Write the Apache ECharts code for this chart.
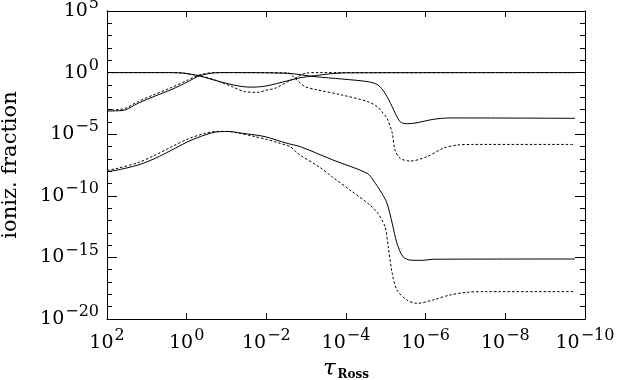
<!DOCTYPE html>
<html>
<head>
<meta charset="utf-8">
<script src="https://cdn.jsdelivr.net/npm/echarts@6/dist/echarts.min.js"></script>
<style>
  html, body { margin: 0; padding: 0; background: #fff; }
  #chart { width: 618px; height: 380px; }
</style>
</head>
<body>
<div id="chart"></div>
<script>
// points are [log10(tau_Ross), log10(fraction)]
var solidTop = [[2, 0], [0.5, 0], [0.12, -0.03], [-0.08, -0.12], [-0.33, -0.28], [-0.84, -0.74], [-1.29, -1.08],
  [-1.59, -1.18], [-1.97, -1.1], [-2.54, -0.66], [-2.85, -0.42], [-3.22, -0.25], [-3.6, -0.1], [-4.0, -0.02], [-9.75, 0]]
var dottedTop = [[2, 0], [0.5, 0], [0.12, -0.03], [-0.08, -0.12], [-0.33, -0.25], [-0.71, -0.6], [-1.14, -1.14],
  [-1.46, -1.55], [-1.79, -1.6], [-1.97, -1.45], [-2.22, -1.27], [-2.54, -0.74], [-2.8, -0.33], [-2.97, -0.06],
  [-3.3, 0], [-9.75, 0]]
var solidMid = [[2, -3.12], [1.75, -3.1], [1.55, -3.04], [1.22, -2.49], [0.79, -1.9], [0.37, -1.36], [-0.03, -0.74],
  [-0.33, -0.25], [-0.71, -0.02], [-1.0, 0], [-2.54, -0.06], [-3.22, -0.33], [-3.9, -0.52], [-4.55, -0.74],
  [-4.8, -1.0], [-4.98, -1.68], [-5.16, -2.77], [-5.36, -3.99], [-5.55, -4.15], [-5.78, -4.07], [-6.18, -3.8],
  [-6.61, -3.68], [-9.75, -3.71]]
var dottedMid = [[2, -3.05], [1.75, -3.0], [1.55, -2.92], [1.22, -2.35], [0.79, -1.75], [0.37, -1.2], [-0.03, -0.6],
  [-0.33, -0.18], [-0.71, 0], [-2.54, -0.02], [-2.72, -0.46], [-2.97, -1.14], [-3.22, -1.36], [-3.9, -1.82],
  [-4.55, -2.36], [-4.8, -2.8], [-4.93, -3.3], [-5.03, -3.7], [-5.16, -4.9], [-5.23, -6.28], [-5.36, -6.96],
  [-5.61, -7.18], [-6.03, -6.83], [-6.44, -6.14], [-6.79, -5.88], [-7.2, -5.83], [-9.75, -5.83]]
var solidLow = [[2, -8.02], [1.8, -7.95], [1.22, -7.5], [0.79, -6.96], [0.37, -6.28], [-0.03, -5.61], [-0.46, -5.06],
  [-0.79, -4.8], [-1.1, -4.78], [-1.29, -4.88], [-1.72, -5.06], [-1.97, -5.2], [-2.52, -5.74], [-2.85, -6.01],
  [-3.67, -7.09], [-4.53, -8.17], [-4.68, -8.72], [-4.9, -9.8], [-5.03, -10.61], [-5.16, -12.23], [-5.28, -13.86],
  [-5.43, -14.94], [-5.61, -15.22], [-5.93, -15.24], [-6.18, -15.15], [-9.75, -15.13]]
var dottedLow = [[2, -7.92], [1.8, -7.82], [1.22, -7.31], [0.79, -6.69], [0.37, -6.01], [-0.03, -5.39], [-0.46, -4.93],
  [-0.79, -4.77], [-1.1, -4.8], [-1.29, -4.9], [-1.72, -5.2], [-1.97, -5.39], [-2.3, -5.7], [-2.59, -6.0],
  [-2.72, -6.35], [-2.85, -6.7], [-3.35, -7.7], [-3.67, -8.5], [-4.1, -9.53], [-4.6, -10.75], [-4.8, -11.42],
  [-4.98, -12.51], [-5.06, -14.13], [-5.16, -16.29], [-5.28, -17.65], [-5.53, -18.46], [-5.78, -18.73],
  [-6.18, -18.46], [-6.61, -18.05], [-7.04, -17.83], [-7.5, -17.78], [-9.75, -17.78]]

var xRange = [1e-10, 1e2]
var yRange = [1e-20, 1e5]

var font = 'DejaVu Serif'

function toData (pts) {
  return pts.map(function (p) { return [Math.pow(10, p[0]), Math.pow(10, p[1])] })
}

function powLabel (v) {
  var e = Math.round(Math.log10(v))
  return '{b|10}{s|' + (e < 0 ? '\u2212' + (-e) : e) + '}'
}

var labelRich = {
  b: { fontFamily: font, fontSize: 19, color: '#000' },
  s: { fontFamily: font, fontSize: 16, color: '#000', padding: [0, 0, 14, 1] }
}

function xAx (pos, show) {
  return {
    type: 'log', logBase: 10, position: pos, inverse: true,
    min: xRange[0], max: xRange[1], interval: 2,
    axisLine: { lineStyle: { color: '#000', width: 1 } },
    axisTick: { inside: true, length: 6, lineStyle: { color: '#000' } },
    axisLabel: { show: show, formatter: powLabel, rich: labelRich, margin: 9 },
    splitLine: { show: false },
    name: show ? '{t|\u03c4}{r|Ross}' : '',
    nameLocation: 'middle', nameGap: 38, nameMoveOverlap: false,
    nameTextStyle: {
      rich: {
        t: { fontFamily: font, fontSize: 23, fontStyle: 'italic', color: '#000' },
        r: { fontFamily: font, fontSize: 12, fontWeight: 'bold', color: '#000', padding: [12, 0, 0, 2] }
      }
    }
  }
}

function yAx (pos, step, len, show) {
  return {
    type: 'log', logBase: 10, position: pos,
    min: yRange[0], max: yRange[1], interval: step,
    axisLine: { lineStyle: { color: '#000', width: 1 } },
    axisTick: { inside: true, length: len, lineStyle: { color: '#000' } },
    axisLabel: { show: show, formatter: powLabel, rich: labelRich, margin: 8 },
    splitLine: { show: false },
    name: show ? 'ioniz. fraction' : '',
    nameLocation: 'middle', nameGap: 86, nameRotate: 90, nameMoveOverlap: false,
    nameTextStyle: { fontFamily: font, fontSize: 21, color: '#000' }
  }
}

function line (pts, dotted) {
  return {
    type: 'line', xAxisIndex: 0, yAxisIndex: 0,
    data: toData(pts), showSymbol: false, smooth: 0.3,
    lineStyle: { color: '#000', width: 1, type: dotted ? [2.5, 2] : 'solid' },
    silent: true
  }
}

var myChart = echarts.init(document.getElementById('chart'))
var option = {
  animation: false,
  backgroundColor: '#fff',
  grid: { left: 107, right: 33, top: 11, bottom: 61, outerBoundsMode: 'none' },
  xAxis: [xAx('bottom', true), xAx('top', false)],
  yAxis: [yAx('left', 5, 10, true), yAx('right', 5, 10, false), yAx('left', 1, 5, false), yAx('right', 1, 5, false)],
  series: [
    line(solidTop, false), line(dottedTop, true),
    line(solidMid, false), line(dottedMid, true),
    line(solidLow, false), line(dottedLow, true)
  ]
}
myChart.setOption(option)
</script>
</body>
</html>
